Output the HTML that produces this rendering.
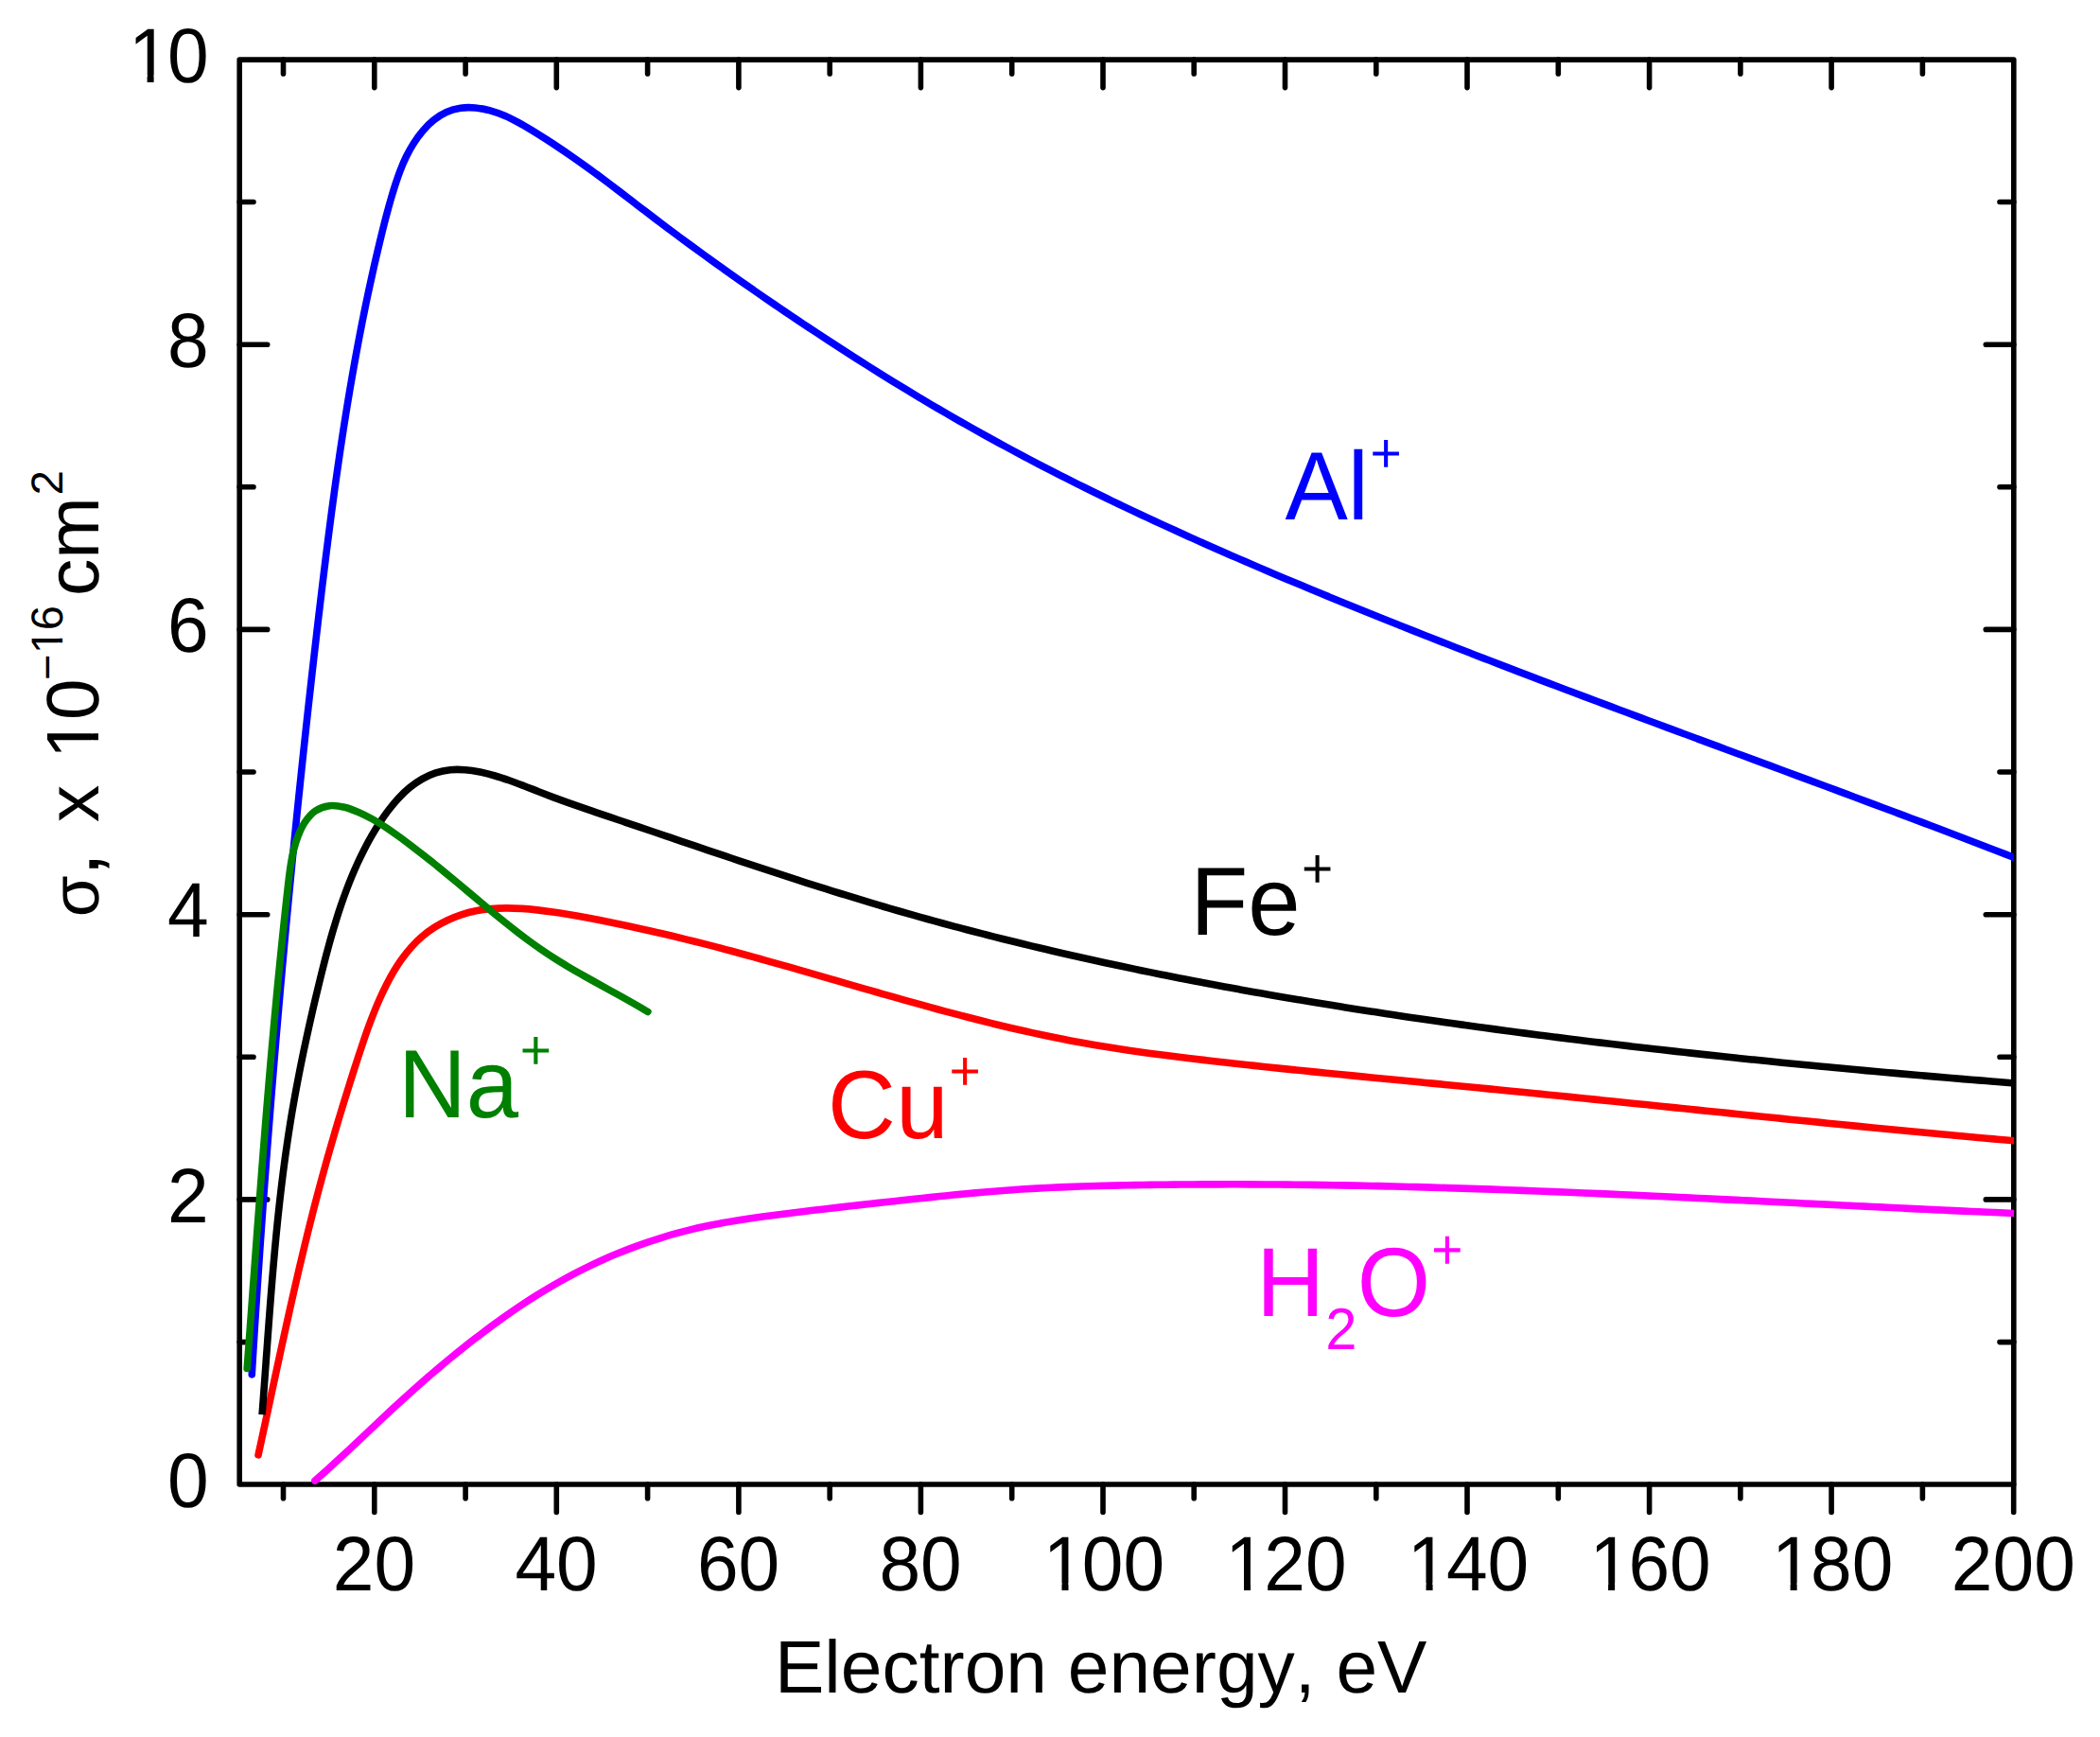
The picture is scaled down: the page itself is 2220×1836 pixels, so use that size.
<!DOCTYPE html>
<html lang="en"><head><meta charset="utf-8"><title>Ionization cross sections</title>
<style>html,body{margin:0;padding:0;background:#fff}body{width:2220px;height:1836px;overflow:hidden}svg{display:block}</style></head>
<body>
<svg width="2220" height="1836" viewBox="0 0 2220 1836" font-family="'Liberation Sans', sans-serif" style="font-kerning:none;text-rendering:geometricPrecision">
<rect width="2220" height="1836" fill="#fff"/>
<rect x="253.2" y="63.1" width="1875.6" height="1505.9" fill="none" stroke="#000" stroke-width="5.6" stroke-linejoin="round"/>
<path d="M299.5,1569.0v14.8M299.5,63.1v14.8M395.8,1569.0v29.5M395.8,63.1v29.5M492.1,1569.0v14.8M492.1,63.1v14.8M588.3,1569.0v29.5M588.3,63.1v29.5M684.6,1569.0v14.8M684.6,63.1v14.8M780.9,1569.0v29.5M780.9,63.1v29.5M877.2,1569.0v14.8M877.2,63.1v14.8M973.4,1569.0v29.5M973.4,63.1v29.5M1069.7,1569.0v14.8M1069.7,63.1v14.8M1166.0,1569.0v29.5M1166.0,63.1v29.5M1262.2,1569.0v14.8M1262.2,63.1v14.8M1358.5,1569.0v29.5M1358.5,63.1v29.5M1454.8,1569.0v14.8M1454.8,63.1v14.8M1551.0,1569.0v29.5M1551.0,63.1v29.5M1647.3,1569.0v14.8M1647.3,63.1v14.8M1743.6,1569.0v29.5M1743.6,63.1v29.5M1839.9,1569.0v14.8M1839.9,63.1v14.8M1936.1,1569.0v29.5M1936.1,63.1v29.5M2032.4,1569.0v14.8M2032.4,63.1v14.8M2128.7,1569.0v29.5M253.2,1418.6h14.8M2128.8,1418.6h-14.8M253.2,1267.9h29.5M2128.8,1267.9h-29.5M253.2,1117.3h14.8M2128.8,1117.3h-14.8M253.2,966.7h29.5M2128.8,966.7h-29.5M253.2,816.0h14.8M2128.8,816.0h-14.8M253.2,665.4h29.5M2128.8,665.4h-29.5M253.2,514.8h14.8M2128.8,514.8h-14.8M253.2,364.2h29.5M2128.8,364.2h-29.5M253.2,213.5h14.8M2128.8,213.5h-14.8" fill="none" stroke="#000" stroke-width="5.6" stroke-linecap="round"/>
<clipPath id="pc"><rect x="253.2" y="63.1" width="1875.9" height="1505.9"/></clipPath>
<path clip-path="url(#pc)" d="M332.93,1565.16C334.97,1563.35 341.10,1557.93 345.13,1554.30C349.15,1550.67 353.13,1547.03 357.09,1543.39C361.05,1539.74 364.98,1536.09 368.89,1532.43C372.80,1528.78 376.69,1525.11 380.57,1521.46C384.46,1517.80 388.33,1514.14 392.20,1510.49C396.08,1506.84 399.95,1503.19 403.84,1499.55C407.73,1495.91 411.62,1492.27 415.54,1488.65C419.46,1485.03 423.40,1481.42 427.36,1477.83C431.33,1474.24 435.32,1470.66 439.33,1467.10C443.34,1463.54 447.38,1460.00 451.44,1456.48C455.50,1452.96 459.59,1449.46 463.70,1445.99C467.81,1442.53 471.94,1439.08 476.09,1435.67C480.24,1432.25 484.42,1428.87 488.62,1425.52C492.81,1422.17 497.03,1418.85 501.27,1415.57C505.52,1412.29 509.78,1409.04 514.06,1405.84C518.35,1402.64 522.65,1399.47 526.98,1396.36C531.31,1393.24 535.66,1390.16 540.05,1387.13C544.43,1384.11 548.84,1381.12 553.28,1378.19C557.73,1375.26 562.20,1372.38 566.72,1369.55C571.23,1366.73 575.78,1363.95 580.37,1361.23C584.96,1358.52 589.59,1355.85 594.26,1353.25C598.94,1350.65 603.65,1348.11 608.42,1345.63C613.19,1343.15 618.00,1340.74 622.86,1338.39C627.72,1336.04 632.63,1333.75 637.57,1331.54C642.52,1329.33 647.51,1327.18 652.52,1325.11C657.54,1323.04 662.60,1321.04 667.68,1319.11C672.75,1317.19 677.87,1315.34 682.99,1313.57C688.12,1311.80 693.27,1310.11 698.44,1308.51C703.60,1306.90 708.79,1305.37 713.98,1303.93C719.17,1302.49 724.37,1301.14 729.58,1299.87C734.78,1298.60 739.99,1297.42 745.21,1296.30C750.43,1295.18 755.65,1294.15 760.88,1293.17C766.11,1292.18 771.34,1291.27 776.58,1290.40C781.82,1289.53 787.07,1288.72 792.32,1287.94C797.57,1287.15 802.82,1286.42 808.08,1285.71C813.34,1284.99 818.61,1284.32 823.88,1283.65C829.14,1282.98 834.42,1282.34 839.70,1281.70C844.97,1281.06 850.26,1280.43 855.54,1279.80C860.83,1279.17 866.12,1278.55 871.42,1277.93C876.71,1277.32 882.01,1276.71 887.31,1276.10C892.61,1275.49 897.92,1274.89 903.23,1274.29C908.54,1273.69 913.85,1273.10 919.17,1272.51C924.49,1271.92 929.81,1271.34 935.13,1270.75C940.45,1270.17 945.78,1269.59 951.11,1269.02C956.44,1268.44 961.77,1267.86 967.10,1267.29C972.44,1266.73 977.78,1266.16 983.12,1265.60C988.45,1265.04 993.80,1264.49 999.14,1263.95C1004.49,1263.41 1009.83,1262.88 1015.18,1262.36C1020.53,1261.85 1025.88,1261.35 1031.23,1260.86C1036.58,1260.38 1041.94,1259.91 1047.29,1259.47C1052.65,1259.02 1058.01,1258.59 1063.36,1258.19C1068.72,1257.79 1074.08,1257.41 1079.44,1257.06C1084.81,1256.71 1090.17,1256.39 1095.53,1256.09C1100.89,1255.79 1106.26,1255.52 1111.62,1255.27C1116.99,1255.01 1122.35,1254.79 1127.72,1254.58C1133.08,1254.36 1138.45,1254.17 1143.82,1254.00C1149.18,1253.82 1154.55,1253.67 1159.92,1253.52C1165.28,1253.37 1170.65,1253.25 1176.02,1253.12C1181.38,1253.00 1186.75,1252.90 1192.12,1252.80C1197.48,1252.70 1202.85,1252.61 1208.21,1252.52C1213.58,1252.44 1218.94,1252.36 1224.31,1252.29C1229.67,1252.22 1235.04,1252.16 1240.40,1252.11C1245.76,1252.06 1251.13,1252.01 1256.49,1251.97C1261.85,1251.94 1267.21,1251.90 1272.57,1251.88C1277.94,1251.86 1283.30,1251.84 1288.66,1251.83C1294.02,1251.82 1299.38,1251.82 1304.74,1251.82C1310.10,1251.83 1315.46,1251.84 1320.82,1251.86C1326.18,1251.87 1331.54,1251.90 1336.90,1251.93C1342.26,1251.96 1347.62,1252.00 1352.98,1252.04C1358.34,1252.09 1363.69,1252.14 1369.05,1252.19C1374.41,1252.25 1379.77,1252.31 1385.12,1252.38C1390.48,1252.45 1395.84,1252.52 1401.20,1252.61C1406.55,1252.69 1411.91,1252.77 1417.26,1252.87C1422.62,1252.96 1427.98,1253.06 1433.33,1253.16C1438.69,1253.26 1444.04,1253.37 1449.40,1253.49C1454.75,1253.60 1460.11,1253.72 1465.46,1253.85C1470.82,1253.97 1476.17,1254.10 1481.53,1254.24C1486.88,1254.37 1492.24,1254.51 1497.59,1254.66C1502.94,1254.80 1508.30,1254.95 1513.65,1255.11C1519.01,1255.26 1524.36,1255.42 1529.71,1255.59C1535.07,1255.75 1540.42,1255.92 1545.77,1256.09C1551.13,1256.26 1556.48,1256.44 1561.83,1256.62C1567.18,1256.80 1572.54,1256.98 1577.89,1257.17C1583.24,1257.36 1588.59,1257.55 1593.95,1257.75C1599.30,1257.94 1604.65,1258.14 1610.00,1258.35C1615.36,1258.55 1620.71,1258.76 1626.06,1258.97C1631.41,1259.17 1636.76,1259.39 1642.12,1259.60C1647.47,1259.82 1652.82,1260.04 1658.17,1260.26C1663.52,1260.48 1668.87,1260.71 1674.23,1260.93C1679.58,1261.16 1684.93,1261.39 1690.28,1261.62C1695.63,1261.86 1700.98,1262.09 1706.34,1262.33C1711.69,1262.57 1717.04,1262.81 1722.39,1263.05C1727.74,1263.29 1733.09,1263.53 1738.45,1263.78C1743.80,1264.02 1749.15,1264.27 1754.50,1264.52C1759.85,1264.77 1765.20,1265.02 1770.56,1265.28C1775.91,1265.53 1781.26,1265.78 1786.61,1266.04C1791.96,1266.29 1797.32,1266.55 1802.67,1266.81C1808.02,1267.07 1813.37,1267.33 1818.72,1267.59C1824.08,1267.85 1829.43,1268.11 1834.78,1268.37C1840.13,1268.63 1845.49,1268.90 1850.84,1269.16C1856.19,1269.42 1861.55,1269.69 1866.90,1269.95C1872.25,1270.22 1877.60,1270.48 1882.96,1270.75C1888.31,1271.01 1893.66,1271.28 1899.02,1271.54C1904.37,1271.81 1909.73,1272.08 1915.08,1272.34C1920.43,1272.61 1925.79,1272.87 1931.14,1273.14C1936.50,1273.40 1941.85,1273.67 1947.21,1273.93C1952.56,1274.20 1957.92,1274.46 1963.27,1274.72C1968.63,1274.99 1973.98,1275.25 1979.34,1275.51C1984.69,1275.77 1990.05,1276.03 1995.40,1276.29C2000.76,1276.55 2006.12,1276.81 2011.47,1277.07C2016.83,1277.32 2022.19,1277.58 2027.54,1277.84C2032.90,1278.09 2038.26,1278.34 2043.62,1278.59C2048.97,1278.85 2054.33,1279.10 2059.69,1279.34C2065.05,1279.59 2070.41,1279.84 2075.77,1280.08C2081.13,1280.33 2086.48,1280.57 2091.84,1280.81C2097.20,1281.05 2102.56,1281.29 2107.92,1281.52C2113.28,1281.76 2118.64,1281.99 2124.01,1282.22C2129.37,1282.45 2137.41,1282.79 2140.09,1282.91" fill="none" stroke="#ff00ff" stroke-width="7.6" stroke-linecap="round" stroke-linejoin="round"/>
<path clip-path="url(#pc)" d="M273.05,1537.88C273.61,1535.28 275.31,1527.47 276.44,1522.26C277.57,1517.04 278.70,1511.82 279.82,1506.59C280.95,1501.37 282.07,1496.13 283.20,1490.90C284.32,1485.66 285.45,1480.42 286.57,1475.17C287.70,1469.92 288.83,1464.67 289.95,1459.42C291.08,1454.17 292.21,1448.91 293.35,1443.65C294.48,1438.40 295.62,1433.14 296.76,1427.88C297.91,1422.62 299.05,1417.36 300.20,1412.09C301.36,1406.83 302.51,1401.57 303.68,1396.31C304.85,1391.05 306.02,1385.79 307.20,1380.54C308.38,1375.28 309.56,1370.02 310.76,1364.77C311.96,1359.52 313.16,1354.27 314.38,1349.02C315.59,1343.78 316.82,1338.53 318.06,1333.29C319.30,1328.06 320.54,1322.82 321.80,1317.60C323.07,1312.37 324.34,1307.15 325.63,1301.93C326.91,1296.72 328.21,1291.51 329.53,1286.31C330.85,1281.11 332.18,1275.92 333.52,1270.73C334.87,1265.55 336.23,1260.37 337.61,1255.21C338.99,1250.04 340.39,1244.88 341.80,1239.73C343.21,1234.58 344.64,1229.44 346.09,1224.31C347.53,1219.17 348.99,1214.04 350.47,1208.92C351.95,1203.79 353.44,1198.68 354.95,1193.56C356.47,1188.44 357.99,1183.33 359.53,1178.22C361.08,1173.11 362.64,1168.01 364.21,1162.90C365.78,1157.79 367.37,1152.69 368.98,1147.58C370.58,1142.47 372.20,1137.37 373.84,1132.26C375.47,1127.15 377.12,1122.04 378.79,1116.92C380.46,1111.81 382.13,1106.69 383.87,1101.59C385.61,1096.48 387.37,1091.37 389.22,1086.29C391.07,1081.21 392.97,1076.13 394.98,1071.09C397.00,1066.05 399.08,1061.02 401.31,1056.03C403.53,1051.05 405.85,1046.06 408.34,1041.19C410.83,1036.31 413.43,1031.46 416.23,1026.79C419.03,1022.13 421.97,1017.53 425.12,1013.18C428.28,1008.83 431.61,1004.62 435.17,1000.69C438.74,996.77 442.52,993.05 446.52,989.66C450.53,986.26 454.79,983.14 459.20,980.31C463.62,977.48 468.26,974.94 473.02,972.70C477.77,970.46 482.72,968.50 487.74,966.85C492.77,965.20 497.94,963.85 503.16,962.80C508.38,961.74 513.70,961.02 519.05,960.53C524.40,960.04 529.82,959.86 535.25,959.83C540.68,959.81 546.17,960.05 551.64,960.39C557.10,960.73 562.60,961.28 568.06,961.88C573.52,962.48 578.98,963.21 584.40,963.98C589.82,964.74 595.21,965.59 600.57,966.46C605.94,967.34 611.27,968.28 616.59,969.25C621.90,970.22 627.19,971.24 632.47,972.28C637.74,973.32 642.99,974.39 648.23,975.47C653.47,976.56 658.69,977.66 663.90,978.78C669.11,979.89 674.30,981.03 679.49,982.18C684.68,983.33 689.85,984.50 695.03,985.69C700.20,986.88 705.36,988.08 710.53,989.31C715.69,990.54 720.85,991.79 726.01,993.07C731.18,994.34 736.34,995.63 741.50,996.94C746.66,998.26 751.82,999.59 756.98,1000.94C762.14,1002.28 767.31,1003.65 772.47,1005.03C777.63,1006.41 782.79,1007.81 787.95,1009.22C793.12,1010.63 798.28,1012.05 803.44,1013.49C808.61,1014.92 813.77,1016.37 818.94,1017.82C824.10,1019.27 829.27,1020.74 834.44,1022.21C839.60,1023.68 844.77,1025.16 849.94,1026.64C855.11,1028.12 860.28,1029.61 865.46,1031.10C870.63,1032.59 875.80,1034.09 880.98,1035.58C886.16,1037.08 891.34,1038.58 896.52,1040.07C901.70,1041.57 906.88,1043.06 912.06,1044.56C917.25,1046.05 922.43,1047.54 927.62,1049.02C932.81,1050.51 938.00,1051.99 943.20,1053.46C948.39,1054.93 953.59,1056.40 958.79,1057.86C963.99,1059.31 969.19,1060.76 974.40,1062.20C979.60,1063.64 984.81,1065.07 990.02,1066.48C995.23,1067.89 1000.45,1069.30 1005.67,1070.68C1010.89,1072.07 1016.11,1073.44 1021.33,1074.79C1026.56,1076.15 1031.79,1077.49 1037.02,1078.80C1042.25,1080.12 1047.48,1081.42 1052.72,1082.69C1057.96,1083.97 1063.20,1085.23 1068.44,1086.46C1073.69,1087.69 1078.94,1088.89 1084.19,1090.07C1089.43,1091.25 1094.69,1092.41 1099.94,1093.53C1105.20,1094.66 1110.46,1095.76 1115.72,1096.82C1120.98,1097.89 1126.24,1098.92 1131.51,1099.93C1136.78,1100.93 1142.05,1101.90 1147.32,1102.83C1152.59,1103.77 1157.86,1104.67 1163.14,1105.55C1168.42,1106.42 1173.70,1107.26 1178.98,1108.08C1184.26,1108.90 1189.55,1109.69 1194.83,1110.46C1200.12,1111.23 1205.41,1111.98 1210.70,1112.70C1215.99,1113.43 1221.29,1114.13 1226.58,1114.82C1231.88,1115.51 1237.18,1116.18 1242.48,1116.84C1247.78,1117.50 1253.08,1118.14 1258.39,1118.77C1263.69,1119.41 1269.00,1120.02 1274.31,1120.64C1279.62,1121.25 1284.93,1121.86 1290.24,1122.45C1295.55,1123.05 1300.87,1123.65 1306.18,1124.23C1311.50,1124.82 1316.82,1125.40 1322.14,1125.97C1327.46,1126.55 1332.78,1127.12 1338.11,1127.68C1343.43,1128.24 1348.75,1128.80 1354.08,1129.36C1359.41,1129.91 1364.74,1130.46 1370.07,1131.01C1375.40,1131.55 1380.73,1132.09 1386.06,1132.63C1391.39,1133.17 1396.73,1133.71 1402.06,1134.24C1407.40,1134.77 1412.74,1135.30 1418.07,1135.82C1423.41,1136.35 1428.75,1136.87 1434.09,1137.40C1439.43,1137.92 1444.78,1138.44 1450.12,1138.95C1455.46,1139.47 1460.81,1139.99 1466.15,1140.51C1471.50,1141.02 1476.84,1141.54 1482.19,1142.05C1487.54,1142.56 1492.89,1143.08 1498.24,1143.59C1503.59,1144.10 1508.94,1144.62 1514.29,1145.13C1519.64,1145.65 1524.99,1146.16 1530.34,1146.68C1535.69,1147.19 1541.05,1147.71 1546.40,1148.23C1551.76,1148.75 1557.11,1149.27 1562.47,1149.79C1567.82,1150.31 1573.18,1150.83 1578.53,1151.36C1583.89,1151.88 1589.25,1152.41 1594.60,1152.94C1599.96,1153.47 1605.32,1154.00 1610.68,1154.54C1616.03,1155.07 1621.39,1155.61 1626.75,1156.14C1632.11,1156.68 1637.47,1157.22 1642.83,1157.76C1648.19,1158.30 1653.54,1158.84 1658.90,1159.38C1664.26,1159.92 1669.62,1160.46 1674.98,1161.01C1680.34,1161.55 1685.70,1162.10 1691.06,1162.64C1696.42,1163.19 1701.78,1163.74 1707.14,1164.28C1712.50,1164.83 1717.86,1165.38 1723.22,1165.93C1728.57,1166.48 1733.93,1167.03 1739.29,1167.58C1744.65,1168.13 1750.01,1168.68 1755.37,1169.22C1760.72,1169.77 1766.08,1170.32 1771.44,1170.87C1776.79,1171.42 1782.15,1171.97 1787.51,1172.52C1792.86,1173.07 1798.22,1173.62 1803.57,1174.17C1808.93,1174.72 1814.28,1175.27 1819.64,1175.82C1824.99,1176.37 1830.34,1176.91 1835.69,1177.46C1841.05,1178.01 1846.40,1178.55 1851.75,1179.10C1857.10,1179.64 1862.45,1180.19 1867.80,1180.73C1873.15,1181.28 1878.49,1181.82 1883.84,1182.36C1889.19,1182.90 1894.53,1183.44 1899.88,1183.98C1905.22,1184.52 1910.57,1185.05 1915.91,1185.59C1921.25,1186.12 1926.60,1186.66 1931.94,1187.19C1937.28,1187.72 1942.61,1188.25 1947.95,1188.78C1953.29,1189.31 1958.63,1189.83 1963.96,1190.36C1969.30,1190.88 1974.63,1191.40 1979.96,1191.92C1985.30,1192.44 1990.63,1192.96 1995.96,1193.48C2001.28,1193.99 2006.61,1194.50 2011.94,1195.01C2017.26,1195.52 2022.59,1196.03 2027.91,1196.53C2033.23,1197.04 2038.56,1197.54 2043.87,1198.04C2049.19,1198.54 2054.51,1199.03 2059.83,1199.53C2065.14,1200.02 2070.46,1200.51 2075.77,1200.99C2081.08,1201.48 2086.39,1201.96 2091.70,1202.44C2097.01,1202.92 2102.31,1203.40 2107.62,1203.87C2112.92,1204.34 2118.22,1204.81 2123.52,1205.27C2128.82,1205.74 2136.77,1206.43 2139.41,1206.66" fill="none" stroke="#ff0000" stroke-width="7.6" stroke-linecap="round" stroke-linejoin="round"/>
<path clip-path="url(#pc)" d="M277.08,1495.25C277.28,1492.59 277.89,1484.59 278.29,1479.26C278.69,1473.93 279.08,1468.59 279.47,1463.25C279.86,1457.91 280.24,1452.58 280.63,1447.23C281.02,1441.89 281.40,1436.55 281.79,1431.21C282.18,1425.86 282.56,1420.52 282.95,1415.17C283.35,1409.83 283.74,1404.48 284.14,1399.13C284.54,1393.78 284.94,1388.44 285.35,1383.09C285.76,1377.74 286.17,1372.40 286.60,1367.05C287.02,1361.70 287.46,1356.35 287.90,1351.01C288.35,1345.66 288.80,1340.32 289.27,1334.98C289.73,1329.63 290.21,1324.29 290.70,1318.95C291.20,1313.61 291.70,1308.27 292.23,1302.93C292.75,1297.60 293.29,1292.26 293.84,1286.93C294.40,1281.60 294.97,1276.27 295.57,1270.94C296.16,1265.61 296.77,1260.29 297.41,1254.97C298.05,1249.65 298.70,1244.33 299.38,1239.02C300.06,1233.71 300.77,1228.40 301.50,1223.09C302.22,1217.78 302.98,1212.48 303.76,1207.19C304.54,1201.89 305.35,1196.60 306.19,1191.31C307.02,1186.02 307.89,1180.74 308.78,1175.46C309.68,1170.18 310.60,1164.91 311.55,1159.64C312.50,1154.37 313.48,1149.11 314.48,1143.85C315.48,1138.59 316.51,1133.33 317.56,1128.08C318.60,1122.83 319.68,1117.58 320.77,1112.33C321.87,1107.09 322.99,1101.85 324.13,1096.61C325.26,1091.37 326.42,1086.13 327.60,1080.90C328.78,1075.67 329.98,1070.44 331.19,1065.21C332.41,1059.99 333.64,1054.76 334.89,1049.54C336.14,1044.32 337.40,1039.09 338.69,1033.88C339.97,1028.66 341.26,1023.44 342.60,1018.24C343.93,1013.04 345.28,1007.84 346.69,1002.66C348.09,997.48 349.52,992.31 351.01,987.16C352.49,982.01 354.02,976.88 355.62,971.78C357.21,966.67 358.86,961.59 360.58,956.54C362.31,951.49 364.09,946.46 365.96,941.48C367.83,936.49 369.77,931.53 371.80,926.62C373.84,921.71 375.95,916.83 378.18,912.00C380.40,907.17 382.71,902.38 385.14,897.65C387.57,892.92 390.09,888.23 392.76,883.59C395.44,878.96 398.22,874.38 401.20,869.86C404.17,865.35 407.28,860.83 410.61,856.49C413.94,852.15 417.43,847.81 421.17,843.81C424.91,839.82 428.86,835.95 433.05,832.54C437.24,829.13 441.72,825.97 446.34,823.37C450.96,820.76 455.83,818.51 460.78,816.91C465.73,815.30 470.87,814.27 476.03,813.74C481.19,813.21 486.48,813.36 491.73,813.74C496.98,814.13 502.29,815.04 507.53,816.08C512.78,817.11 518.00,818.49 523.20,819.98C528.39,821.47 533.56,823.22 538.71,825.01C543.86,826.80 548.99,828.78 554.10,830.74C559.21,832.69 564.30,834.76 569.38,836.73C574.46,838.71 579.52,840.69 584.57,842.59C589.63,844.49 594.67,846.33 599.70,848.14C604.74,849.95 609.77,851.70 614.79,853.45C619.82,855.19 624.83,856.90 629.85,858.60C634.88,860.31 639.89,861.99 644.91,863.68C649.94,865.38 654.96,867.07 659.99,868.77C665.02,870.47 670.05,872.17 675.09,873.88C680.12,875.58 685.16,877.29 690.21,879.00C695.25,880.72 700.30,882.43 705.35,884.14C710.40,885.86 715.45,887.57 720.51,889.29C725.57,891.00 730.63,892.72 735.70,894.43C740.76,896.14 745.83,897.86 750.90,899.57C755.97,901.28 761.05,902.99 766.13,904.69C771.21,906.39 776.29,908.10 781.37,909.80C786.46,911.49 791.55,913.19 796.64,914.88C801.73,916.56 806.83,918.25 811.93,919.93C817.03,921.60 822.13,923.27 827.23,924.94C832.34,926.60 837.45,928.26 842.56,929.91C847.67,931.56 852.79,933.20 857.91,934.83C863.02,936.46 868.15,938.08 873.27,939.70C878.40,941.31 883.52,942.91 888.66,944.50C893.79,946.09 898.92,947.67 904.06,949.24C909.20,950.81 914.34,952.36 919.48,953.90C924.63,955.45 929.77,956.97 934.92,958.49C940.07,960.00 945.23,961.50 950.38,962.99C955.54,964.48 960.70,965.95 965.86,967.41C971.02,968.86 976.19,970.31 981.35,971.74C986.52,973.17 991.69,974.59 996.87,975.99C1002.04,977.39 1007.22,978.78 1012.40,980.16C1017.57,981.53 1022.76,982.90 1027.94,984.25C1033.13,985.60 1038.31,986.94 1043.50,988.26C1048.69,989.58 1053.89,990.90 1059.08,992.20C1064.28,993.49 1069.48,994.78 1074.68,996.05C1079.88,997.33 1085.08,998.59 1090.29,999.84C1095.50,1001.09 1100.70,1002.33 1105.92,1003.55C1111.13,1004.78 1116.34,1005.99 1121.56,1007.20C1126.77,1008.40 1131.99,1009.59 1137.21,1010.77C1142.43,1011.95 1147.66,1013.11 1152.88,1014.27C1158.11,1015.43 1163.34,1016.57 1168.57,1017.71C1173.80,1018.84 1179.03,1019.96 1184.26,1021.08C1189.50,1022.19 1194.74,1023.29 1199.97,1024.38C1205.21,1025.47 1210.46,1026.55 1215.70,1027.62C1220.94,1028.69 1226.19,1029.75 1231.44,1030.80C1236.68,1031.85 1241.93,1032.89 1247.19,1033.92C1252.44,1034.95 1257.69,1035.97 1262.95,1036.98C1268.20,1038.00 1273.46,1039.00 1278.72,1039.99C1283.98,1040.98 1289.24,1041.96 1294.51,1042.93C1299.77,1043.91 1305.04,1044.87 1310.30,1045.83C1315.57,1046.78 1320.84,1047.73 1326.11,1048.66C1331.38,1049.60 1336.66,1050.53 1341.93,1051.45C1347.21,1052.37 1352.48,1053.28 1357.76,1054.19C1363.04,1055.09 1368.32,1055.98 1373.60,1056.87C1378.88,1057.76 1384.16,1058.64 1389.45,1059.51C1394.73,1060.38 1400.02,1061.24 1405.31,1062.10C1410.59,1062.95 1415.88,1063.80 1421.17,1064.64C1426.47,1065.48 1431.76,1066.32 1437.05,1067.14C1442.34,1067.97 1447.64,1068.79 1452.94,1069.60C1458.23,1070.41 1463.53,1071.22 1468.83,1072.02C1474.13,1072.82 1479.43,1073.61 1484.73,1074.39C1490.03,1075.18 1495.34,1075.96 1500.64,1076.73C1505.94,1077.51 1511.25,1078.27 1516.56,1079.03C1521.86,1079.79 1527.17,1080.55 1532.48,1081.30C1537.79,1082.05 1543.10,1082.79 1548.41,1083.53C1553.72,1084.26 1559.03,1085.00 1564.35,1085.72C1569.66,1086.45 1574.97,1087.17 1580.29,1087.88C1585.60,1088.60 1590.92,1089.31 1596.24,1090.01C1601.56,1090.72 1606.87,1091.42 1612.19,1092.11C1617.51,1092.80 1622.83,1093.49 1628.15,1094.17C1633.47,1094.86 1638.79,1095.53 1644.12,1096.21C1649.44,1096.88 1654.76,1097.55 1660.08,1098.21C1665.41,1098.87 1670.73,1099.53 1676.06,1100.18C1681.38,1100.83 1686.71,1101.47 1692.03,1102.12C1697.36,1102.76 1702.69,1103.39 1708.02,1104.03C1713.34,1104.66 1718.67,1105.28 1724.00,1105.90C1729.33,1106.53 1734.66,1107.14 1739.99,1107.75C1745.32,1108.37 1750.65,1108.97 1755.98,1109.58C1761.31,1110.18 1766.64,1110.78 1771.97,1111.37C1777.30,1111.96 1782.63,1112.55 1787.96,1113.13C1793.30,1113.72 1798.63,1114.30 1803.96,1114.87C1809.29,1115.44 1814.62,1116.01 1819.96,1116.58C1825.29,1117.15 1830.62,1117.71 1835.96,1118.26C1841.29,1118.82 1846.62,1119.37 1851.96,1119.92C1857.29,1120.47 1862.62,1121.01 1867.96,1121.55C1873.29,1122.09 1878.62,1122.63 1883.96,1123.16C1889.29,1123.69 1894.63,1124.21 1899.96,1124.74C1905.29,1125.26 1910.63,1125.78 1915.96,1126.29C1921.29,1126.81 1926.63,1127.32 1931.96,1127.82C1937.29,1128.33 1942.63,1128.83 1947.96,1129.33C1953.29,1129.83 1958.63,1130.33 1963.96,1130.82C1969.29,1131.31 1974.62,1131.79 1979.95,1132.28C1985.29,1132.76 1990.62,1133.24 1995.95,1133.72C2001.28,1134.19 2006.61,1134.67 2011.94,1135.13C2017.27,1135.60 2022.60,1136.07 2027.93,1136.53C2033.26,1136.99 2038.59,1137.45 2043.92,1137.90C2049.25,1138.36 2054.58,1138.81 2059.90,1139.26C2065.23,1139.71 2070.56,1140.15 2075.89,1140.59C2081.21,1141.03 2086.54,1141.47 2091.86,1141.90C2097.19,1142.34 2102.51,1142.77 2107.84,1143.20C2113.16,1143.63 2118.48,1144.05 2123.81,1144.47C2129.13,1144.90 2137.11,1145.52 2139.77,1145.73" fill="none" stroke="#000000" stroke-width="7.6" stroke-linecap="butt" stroke-linejoin="round"/>
<path clip-path="url(#pc)" d="M266.27,1452.85C266.43,1450.18 266.92,1442.17 267.24,1436.84C267.57,1431.50 267.90,1426.17 268.23,1420.83C268.56,1415.50 268.89,1410.16 269.23,1404.82C269.57,1399.49 269.91,1394.15 270.25,1388.81C270.60,1383.48 270.94,1378.14 271.29,1372.80C271.64,1367.47 271.99,1362.13 272.35,1356.79C272.70,1351.45 273.06,1346.12 273.42,1340.78C273.78,1335.44 274.15,1330.11 274.51,1324.77C274.88,1319.43 275.25,1314.09 275.62,1308.76C275.99,1303.42 276.37,1298.08 276.75,1292.74C277.13,1287.41 277.51,1282.07 277.89,1276.73C278.28,1271.39 278.66,1266.06 279.05,1260.72C279.44,1255.38 279.84,1250.04 280.23,1244.71C280.63,1239.37 281.03,1234.03 281.43,1228.69C281.83,1223.36 282.24,1218.02 282.64,1212.68C283.05,1207.34 283.46,1202.01 283.88,1196.67C284.29,1191.33 284.71,1186.00 285.13,1180.66C285.55,1175.32 285.97,1169.98 286.40,1164.65C286.82,1159.31 287.25,1153.97 287.68,1148.64C288.12,1143.30 288.55,1137.97 288.99,1132.63C289.43,1127.29 289.87,1121.96 290.31,1116.62C290.75,1111.29 291.20,1105.95 291.65,1100.61C292.10,1095.28 292.55,1089.94 293.01,1084.61C293.47,1079.27 293.92,1073.94 294.39,1068.60C294.85,1063.27 295.31,1057.93 295.78,1052.60C296.25,1047.27 296.72,1041.93 297.20,1036.60C297.67,1031.26 298.15,1025.93 298.63,1020.60C299.11,1015.26 299.59,1009.93 300.08,1004.60C300.56,999.27 301.05,993.93 301.54,988.60C302.04,983.27 302.53,977.94 303.03,972.61C303.53,967.28 304.03,961.94 304.54,956.61C305.04,951.28 305.55,945.95 306.06,940.62C306.57,935.29 307.08,929.96 307.60,924.63C308.12,919.30 308.64,913.98 309.16,908.65C309.68,903.32 310.21,897.99 310.74,892.66C311.27,887.34 311.80,882.01 312.34,876.68C312.87,871.35 313.41,866.03 313.95,860.70C314.50,855.38 315.04,850.05 315.59,844.73C316.14,839.40 316.69,834.08 317.24,828.75C317.80,823.43 318.35,818.11 318.91,812.78C319.47,807.46 320.04,802.14 320.61,796.81C321.17,791.49 321.74,786.17 322.31,780.85C322.89,775.53 323.46,770.21 324.04,764.89C324.62,759.57 325.21,754.25 325.79,748.93C326.38,743.61 326.97,738.29 327.56,732.98C328.15,727.66 328.74,722.34 329.34,717.03C329.94,711.71 330.54,706.39 331.15,701.08C331.75,695.76 332.36,690.45 332.97,685.13C333.58,679.82 334.20,674.51 334.81,669.19C335.43,663.88 336.05,658.57 336.67,653.26C337.30,647.95 337.92,642.64 338.55,637.33C339.19,632.02 339.82,626.71 340.46,621.40C341.10,616.09 341.74,610.78 342.39,605.48C343.04,600.17 343.69,594.87 344.35,589.56C345.01,584.26 345.68,578.95 346.35,573.65C347.02,568.35 347.70,563.04 348.39,557.74C349.07,552.44 349.77,547.14 350.47,541.84C351.18,536.54 351.89,531.25 352.61,525.95C353.33,520.65 354.06,515.36 354.80,510.06C355.54,504.77 356.29,499.48 357.05,494.18C357.81,488.89 358.58,483.60 359.36,478.31C360.14,473.02 360.94,467.74 361.74,462.45C362.55,457.16 363.37,451.88 364.20,446.59C365.03,441.31 365.88,436.03 366.74,430.75C367.60,425.47 368.47,420.19 369.35,414.91C370.24,409.63 371.14,404.36 372.06,399.08C372.98,393.81 373.91,388.54 374.86,383.27C375.81,378.00 376.77,372.73 377.75,367.46C378.74,362.19 379.73,356.93 380.75,351.67C381.77,346.40 382.80,341.14 383.85,335.88C384.91,330.62 385.98,325.36 387.07,320.11C388.16,314.85 389.27,309.60 390.40,304.35C391.53,299.09 392.68,293.84 393.85,288.60C395.02,283.35 396.21,278.10 397.42,272.86C398.64,267.62 399.87,262.37 401.13,257.13C402.39,251.90 403.66,246.65 404.97,241.43C406.28,236.20 407.61,230.97 409.00,225.78C410.38,220.59 411.80,215.41 413.29,210.28C414.78,205.15 416.30,200.05 417.94,195.01C419.59,189.97 421.26,184.98 423.18,180.06C425.10,175.15 427.11,170.29 429.47,165.53C431.82,160.77 434.37,156.04 437.31,151.49C440.24,146.94 443.50,142.35 447.07,138.25C450.63,134.14 454.53,130.14 458.69,126.85C462.85,123.56 467.32,120.60 472.01,118.51C476.70,116.41 481.75,115.03 486.83,114.27C491.90,113.51 497.23,113.53 502.45,113.97C507.66,114.41 512.97,115.51 518.13,116.90C523.30,118.30 528.41,120.24 533.44,122.36C538.46,124.49 543.40,127.03 548.27,129.64C553.14,132.25 557.93,135.15 562.67,138.02C567.40,140.88 572.07,143.86 576.68,146.82C581.30,149.77 585.85,152.74 590.36,155.74C594.87,158.74 599.32,161.75 603.74,164.80C608.17,167.86 612.54,170.94 616.88,174.05C621.23,177.16 625.54,180.30 629.83,183.46C634.11,186.62 638.37,189.81 642.61,193.00C646.86,196.20 651.08,199.42 655.29,202.63C659.51,205.85 663.71,209.08 667.92,212.31C672.12,215.53 676.32,218.76 680.52,221.98C684.73,225.20 688.94,228.42 693.16,231.62C697.39,234.82 701.62,238.01 705.86,241.20C710.11,244.38 714.36,247.55 718.62,250.71C722.89,253.87 727.16,257.02 731.44,260.16C735.73,263.29 740.02,266.42 744.32,269.54C748.63,272.66 752.94,275.77 757.27,278.87C761.59,281.97 765.92,285.06 770.26,288.14C774.61,291.21 778.96,294.28 783.32,297.34C787.68,300.40 792.06,303.45 796.44,306.50C800.82,309.54 805.21,312.57 809.61,315.59C814.01,318.61 818.42,321.63 822.84,324.63C827.26,327.63 831.69,330.63 836.12,333.62C840.56,336.60 845.01,339.58 849.46,342.55C853.92,345.52 858.38,348.48 862.86,351.43C867.33,354.38 871.81,357.32 876.31,360.25C880.80,363.19 885.30,366.11 889.81,369.02C894.32,371.93 898.83,374.84 903.36,377.73C907.89,380.62 912.42,383.50 916.97,386.36C921.51,389.23 926.06,392.09 930.63,394.93C935.19,397.77 939.76,400.60 944.33,403.42C948.91,406.24 953.50,409.04 958.09,411.83C962.69,414.62 967.29,417.40 971.90,420.16C976.51,422.92 981.13,425.66 985.76,428.40C990.39,431.13 995.02,433.84 999.67,436.54C1004.31,439.24 1008.96,441.92 1013.62,444.59C1018.28,447.26 1022.95,449.91 1027.62,452.54C1032.30,455.17 1036.98,457.79 1041.67,460.38C1046.36,462.98 1051.06,465.56 1055.76,468.13C1060.47,470.69 1065.18,473.24 1069.90,475.78C1074.62,478.31 1079.35,480.82 1084.08,483.33C1088.81,485.83 1093.55,488.31 1098.30,490.78C1103.05,493.25 1107.80,495.71 1112.56,498.15C1117.33,500.59 1122.09,503.02 1126.87,505.43C1131.64,507.84 1136.42,510.24 1141.21,512.62C1145.99,515.01 1150.79,517.38 1155.58,519.73C1160.38,522.09 1165.19,524.43 1170.00,526.77C1174.81,529.10 1179.62,531.41 1184.45,533.72C1189.27,536.03 1194.10,538.32 1198.93,540.60C1203.76,542.88 1208.60,545.15 1213.44,547.41C1218.29,549.67 1223.13,551.91 1227.99,554.15C1232.84,556.39 1237.70,558.61 1242.56,560.82C1247.43,563.04 1252.30,565.24 1257.17,567.43C1262.04,569.63 1266.92,571.81 1271.80,573.98C1276.68,576.16 1281.57,578.32 1286.46,580.47C1291.35,582.63 1296.24,584.77 1301.14,586.91C1306.04,589.05 1310.94,591.17 1315.85,593.29C1320.76,595.41 1325.67,597.52 1330.58,599.62C1335.50,601.73 1340.41,603.82 1345.33,605.91C1350.26,608.00 1355.18,610.08 1360.11,612.15C1365.04,614.22 1369.97,616.29 1374.90,618.35C1379.84,620.41 1384.77,622.46 1389.71,624.50C1394.65,626.55 1399.60,628.59 1404.54,630.63C1409.49,632.66 1414.44,634.69 1419.39,636.71C1424.34,638.73 1429.29,640.75 1434.25,642.76C1439.20,644.77 1444.16,646.78 1449.12,648.78C1454.08,650.78 1459.05,652.78 1464.01,654.77C1468.98,656.76 1473.95,658.74 1478.92,660.72C1483.89,662.70 1488.86,664.67 1493.84,666.65C1498.81,668.62 1503.79,670.58 1508.77,672.54C1513.75,674.50 1518.73,676.46 1523.71,678.41C1528.70,680.36 1533.68,682.31 1538.67,684.25C1543.66,686.20 1548.65,688.14 1553.64,690.07C1558.63,692.01 1563.62,693.94 1568.62,695.87C1573.61,697.80 1578.61,699.72 1583.60,701.64C1588.60,703.56 1593.60,705.48 1598.60,707.39C1603.60,709.31 1608.60,711.22 1613.61,713.12C1618.61,715.03 1623.61,716.94 1628.62,718.84C1633.63,720.74 1638.63,722.64 1643.64,724.53C1648.65,726.43 1653.66,728.32 1658.67,730.21C1663.68,732.10 1668.69,733.99 1673.71,735.87C1678.72,737.76 1683.73,739.64 1688.75,741.52C1693.76,743.41 1698.78,745.28 1703.79,747.16C1708.81,749.04 1713.83,750.91 1718.85,752.79C1723.86,754.66 1728.88,756.53 1733.90,758.40C1738.92,760.27 1743.94,762.14 1748.96,764.01C1753.98,765.87 1759.00,767.74 1764.02,769.61C1769.04,771.47 1774.06,773.33 1779.08,775.20C1784.11,777.06 1789.13,778.92 1794.15,780.78C1799.17,782.64 1804.19,784.50 1809.22,786.36C1814.24,788.22 1819.26,790.08 1824.28,791.94C1829.31,793.80 1834.33,795.66 1839.35,797.52C1844.37,799.38 1849.39,801.24 1854.42,803.10C1859.44,804.95 1864.46,806.81 1869.48,808.67C1874.50,810.53 1879.52,812.39 1884.54,814.25C1889.57,816.11 1894.59,817.97 1899.61,819.83C1904.62,821.69 1909.64,823.55 1914.66,825.42C1919.68,827.28 1924.70,829.14 1929.72,831.01C1934.73,832.87 1939.75,834.74 1944.77,836.60C1949.78,838.47 1954.80,840.34 1959.81,842.21C1964.83,844.08 1969.84,845.95 1974.85,847.82C1979.86,849.70 1984.87,851.57 1989.88,853.45C1994.89,855.32 1999.90,857.20 2004.91,859.08C2009.92,860.96 2014.92,862.85 2019.93,864.73C2024.94,866.62 2029.94,868.50 2034.94,870.39C2039.94,872.28 2044.95,874.17 2049.94,876.07C2054.94,877.96 2059.94,879.86 2064.94,881.76C2069.94,883.66 2074.93,885.57 2079.92,887.47C2084.92,889.38 2089.91,891.29 2094.90,893.20C2099.89,895.12 2104.88,897.03 2109.86,898.95C2114.85,900.87 2119.83,902.79 2124.81,904.72C2129.80,906.65 2137.26,909.55 2139.75,910.51" fill="none" stroke="#0000ff" stroke-width="7.6" stroke-linecap="round" stroke-linejoin="round"/>
<path clip-path="url(#pc)" d="M261.18,1446.56C261.38,1443.85 261.98,1435.74 262.38,1430.34C262.78,1424.93 263.18,1419.53 263.58,1414.14C263.97,1408.74 264.37,1403.34 264.76,1397.95C265.16,1392.55 265.56,1387.16 265.95,1381.77C266.35,1376.38 266.74,1370.99 267.13,1365.61C267.53,1360.22 267.92,1354.84 268.32,1349.46C268.71,1344.07 269.11,1338.69 269.51,1333.32C269.90,1327.94 270.30,1322.56 270.70,1317.18C271.09,1311.81 271.49,1306.43 271.89,1301.06C272.29,1295.69 272.69,1290.32 273.10,1284.95C273.50,1279.58 273.90,1274.21 274.31,1268.84C274.72,1263.47 275.13,1258.10 275.54,1252.73C275.95,1247.37 276.36,1242.00 276.77,1236.64C277.19,1231.27 277.61,1225.91 278.03,1220.54C278.45,1215.18 278.87,1209.81 279.30,1204.45C279.72,1199.09 280.15,1193.72 280.59,1188.36C281.02,1183.00 281.46,1177.64 281.90,1172.27C282.34,1166.91 282.78,1161.55 283.23,1156.18C283.68,1150.82 284.13,1145.46 284.58,1140.09C285.04,1134.73 285.50,1129.37 285.96,1124.00C286.43,1118.64 286.90,1113.27 287.37,1107.91C287.85,1102.54 288.33,1097.18 288.81,1091.81C289.29,1086.44 289.78,1081.07 290.28,1075.70C290.77,1070.34 291.27,1064.97 291.78,1059.60C292.28,1054.22 292.80,1048.85 293.31,1043.48C293.83,1038.11 294.35,1032.73 294.88,1027.35C295.41,1021.98 295.95,1016.60 296.49,1011.22C297.03,1005.84 297.58,1000.46 298.14,995.08C298.69,989.70 299.26,984.31 299.83,978.93C300.40,973.54 300.97,968.15 301.56,962.76C302.14,957.37 302.73,951.98 303.33,946.58C303.93,941.19 304.50,935.78 305.16,930.39C305.82,925.01 306.43,919.60 307.31,914.29C308.18,908.97 309.11,903.67 310.43,898.50C311.76,893.33 313.24,888.21 315.24,883.27C317.24,878.34 319.41,873.25 322.43,868.89C325.45,864.53 329.07,860.00 333.38,857.13C337.68,854.26 343.11,852.31 348.25,851.66C353.40,851.00 359.04,852.02 364.24,853.19C369.45,854.36 374.53,856.52 379.50,858.66C384.47,860.79 389.31,863.34 394.06,865.99C398.81,868.65 403.44,871.61 408.00,874.62C412.56,877.62 417.02,880.84 421.43,884.03C425.84,887.22 430.16,890.49 434.45,893.74C438.73,896.99 442.95,900.25 447.14,903.52C451.34,906.80 455.48,910.09 459.62,913.40C463.75,916.72 467.85,920.06 471.96,923.43C476.07,926.80 480.17,930.20 484.28,933.63C488.38,937.06 492.49,940.53 496.62,943.99C500.74,947.46 504.87,950.95 509.03,954.42C513.18,957.89 517.34,961.37 521.53,964.82C525.72,968.27 529.93,971.71 534.17,975.10C538.41,978.50 542.67,981.87 546.97,985.18C551.27,988.48 555.60,991.76 559.97,994.95C564.34,998.14 568.75,1001.28 573.20,1004.32C577.66,1007.37 582.16,1010.33 586.69,1013.22C591.23,1016.11 595.82,1018.90 600.43,1021.66C605.04,1024.42 609.68,1027.11 614.35,1029.77C619.01,1032.44 623.70,1035.05 628.40,1037.67C633.10,1040.28 637.82,1042.86 642.54,1045.46C647.25,1048.06 651.98,1050.65 656.70,1053.27C661.41,1055.90 666.13,1058.53 670.83,1061.22C675.53,1063.91 682.54,1068.05 684.88,1069.41" fill="none" stroke="#008000" stroke-width="7.6" stroke-linecap="round" stroke-linejoin="round"/>
<g fill="#000">
<text transform="translate(351.84,1680.6) scale(1,1.04)" font-size="78.5" x="0 43.66" y="0">20</text>
<text transform="translate(544.38,1680.6) scale(1,1.04)" font-size="78.5" x="0 43.66" y="0">40</text>
<text transform="translate(736.92,1680.6) scale(1,1.04)" font-size="78.5" x="0 43.66" y="0">60</text>
<text transform="translate(929.46,1680.6) scale(1,1.04)" font-size="78.5" x="0 43.66" y="0">80</text>
<clipPath id="k1"><path clip-rule="evenodd" d="M-3000,-3000h6000v6000h-6000zM7.09,-6.96h15.21v8.86h-15.21zM29.33,-6.96h14.6v8.86h-14.6z"/></clipPath>
<text transform="translate(1100.17,1680.6) scale(1,1.04)" font-size="78.5" x="2.61 43.66 87.32" y="0" clip-path="url(#k1)">100</text>
<clipPath id="k2"><path clip-rule="evenodd" d="M-3000,-3000h6000v6000h-6000zM7.09,-6.96h15.21v8.86h-15.21zM29.33,-6.96h14.6v8.86h-14.6z"/></clipPath>
<text transform="translate(1292.71,1680.6) scale(1,1.04)" font-size="78.5" x="2.61 43.66 87.32" y="0" clip-path="url(#k2)">120</text>
<clipPath id="k3"><path clip-rule="evenodd" d="M-3000,-3000h6000v6000h-6000zM7.09,-6.96h15.21v8.86h-15.21zM29.33,-6.96h14.6v8.86h-14.6z"/></clipPath>
<text transform="translate(1485.25,1680.6) scale(1,1.04)" font-size="78.5" x="2.61 43.66 87.32" y="0" clip-path="url(#k3)">140</text>
<clipPath id="k4"><path clip-rule="evenodd" d="M-3000,-3000h6000v6000h-6000zM7.09,-6.96h15.21v8.86h-15.21zM29.33,-6.96h14.6v8.86h-14.6z"/></clipPath>
<text transform="translate(1677.79,1680.6) scale(1,1.04)" font-size="78.5" x="2.61 43.66 87.32" y="0" clip-path="url(#k4)">160</text>
<clipPath id="k5"><path clip-rule="evenodd" d="M-3000,-3000h6000v6000h-6000zM7.09,-6.96h15.21v8.86h-15.21zM29.33,-6.96h14.6v8.86h-14.6z"/></clipPath>
<text transform="translate(1870.33,1680.6) scale(1,1.04)" font-size="78.5" x="2.61 43.66 87.32" y="0" clip-path="url(#k5)">180</text>
<text transform="translate(2062.87,1680.6) scale(1,1.04)" font-size="78.5" x="0 43.66 87.32" y="0">200</text>
<text transform="translate(176.94,1593) scale(1,1.04)" font-size="78.5" x="0" y="0">0</text>
<text transform="translate(176.94,1291.74) scale(1,1.04)" font-size="78.5" x="0" y="0">2</text>
<text transform="translate(176.94,990.48) scale(1,1.04)" font-size="78.5" x="0" y="0">4</text>
<text transform="translate(176.94,689.22) scale(1,1.04)" font-size="78.5" x="0" y="0">6</text>
<text transform="translate(176.94,387.96) scale(1,1.04)" font-size="78.5" x="0" y="0">8</text>
<clipPath id="k6"><path clip-rule="evenodd" d="M-3000,-3000h6000v6000h-6000zM7.09,-6.96h15.21v8.86h-15.21zM29.33,-6.96h14.6v8.86h-14.6z"/></clipPath>
<text transform="translate(133.28,86.7) scale(1,1.04)" font-size="78.5" x="2.61 43.66" y="0" clip-path="url(#k6)">10</text>
<text transform="translate(819,1789)" font-size="78.5">Electron energy, eV</text>
<clipPath id="k7"><path clip-rule="evenodd" d="M-3000,-3000h6000v6000h-6000zM171.69,-6.96h15.21v8.86h-15.21zM193.93,-6.96h14.6v8.86h-14.6zM280.36,-43.02h9.71v6.52h-9.71zM294.33,-43.02h9.34v6.52h-9.34z"/></clipPath>
<text transform="translate(104,969.2) rotate(-90)" font-size="71" x="0" y="0" clip-path="url(#k7)">σ<tspan font-size="90" x="43.2" y="0">,</tspan><tspan font-size="78.5" x="69.2" y="0"> </tspan><tspan font-size="78.5" x="100.2" y="0">x</tspan><tspan font-size="78.5" x="139.2" y="0"> </tspan><tspan font-size="78.5" x="167.21 208.26" y="0">10</tspan><tspan font-size="47.1" x="250.2" y="-38.4">−</tspan><tspan font-size="47.1" x="278.27 302.9" y="-38.4">16</tspan><tspan font-size="78.5" x="339.2 378.45" y="0">cm</tspan><tspan font-size="47.1" x="446" y="-38.4">2</tspan></text>
</g>
<text transform="translate(1358.5,549.2) scale(1,1.03)" font-size="99.5" x="0 66.37" y="0" fill="#0000ff">Al<tspan font-size="57" x="90.07" y="-48.81">+</tspan></text>
<text transform="translate(420.9,1180.9) scale(1,1.03)" font-size="99.5" x="0 71.86" y="0" fill="#008000">Na<tspan font-size="57" x="128.97" y="-49.2">+</tspan></text>
<text transform="translate(1258.6,988.3) scale(1,1.03)" font-size="99.5" x="0 60.78" y="0" fill="#000000">Fe<tspan font-size="57" x="117.37" y="-49.2">+</tspan></text>
<text transform="translate(875,1202.9) scale(1,1.03)" font-size="99.5" x="0" y="0" fill="#ff0000">C<tspan font-size="99.5" x="72.26" y="0">u</tspan><tspan font-size="57" x="128.57" y="-49.2">+</tspan></text>
<text transform="translate(1328.3,1390.9) scale(1,1.04)" font-size="99.5" x="0" y="0" fill="#ff00ff">H<tspan font-size="59.7" x="72.86" y="33.56">2</tspan><tspan font-size="99.5" x="106.36" y="0">O</tspan><tspan font-size="57" x="184.87" y="-48.26">+</tspan></text>
</svg>
</body></html>
